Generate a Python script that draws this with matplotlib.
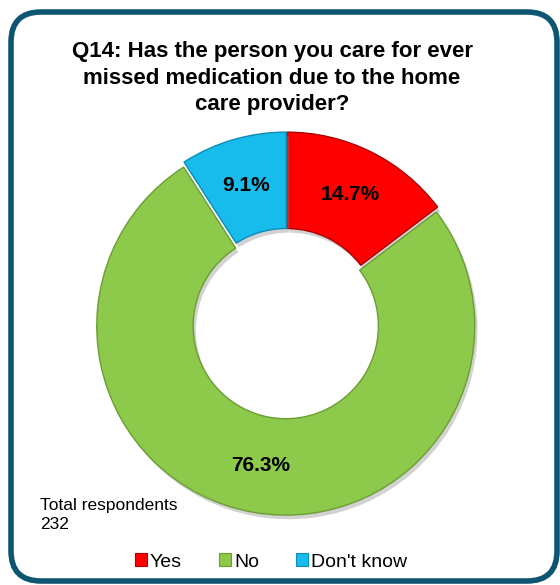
import matplotlib
matplotlib.use('Agg')
import matplotlib.pyplot as plt
from matplotlib.patches import FancyBboxPatch, Patch
from matplotlib.transforms import IdentityTransform
import matplotlib.patheffects as pe

# survey answers for Q14
labels = ['Yes', 'No', "Don't know"]
values = [14.7, 76.3, 9.1]
colors = ['#FF0000', '#8DC94A', '#17BCEC']
edges = ['#B00000', '#6A9E33', '#0C8DB5']
total_respondents = 232

plt.rcParams['font.family'] = ['Liberation Sans', 'DejaVu Sans']

fig = plt.figure(figsize=(5.6, 5.85), dpi=100)

# rounded frame round the whole chart (pixel coords), kept behind the axes
frame = FancyBboxPatch((11, 4), 546, 569, boxstyle='round,pad=0,rounding_size=30',
                       transform=IdentityTransform(), facecolor='none',
                       edgecolor='#0E5572', linewidth=4, zorder=-1)
fig.patches.append(frame)

fig.text(272 / 560, 1 - 78 / 585,
         'Q14: Has the person you care for ever\nmissed medication due to the home\ncare provider?',
         ha='center', va='center', fontsize=16, fontweight='bold', linespacing=1.32)

# donut, centre at (286.5, 322) px, radius 189 px
R = 189
side = 420
ax = fig.add_axes([(286.5 - side / 2) / 560, (585 - 322 - side / 2) / 585, side / 560, side / 585])
wedges, _, autotexts = ax.pie(values, colors=colors, startangle=90, counterclock=False,
                              explode=[0.005, 0.022, 0.005], autopct='%.1f', pctdistance=0.75,
                              wedgeprops=dict(width=0.51, linewidth=1.0),
                              normalize=True)
for w, ec in zip(wedges, edges):
    w.set_edgecolor(ec)
    w.set_path_effects([pe.SimplePatchShadow(offset=(2, -3), shadow_rgbFace='#808080', alpha=0.35),
                        pe.Normal()])
for t, v in zip(autotexts, values):
    t.set_text(f'{v:.1f}%')
    t.set_fontsize(15)
    t.set_fontweight('bold')
    t.set_color('black')
L = side / 2 / R
ax.set_xlim(-L, L)
ax.set_ylim(-L, L)
ax.set_aspect('equal')
ax.axis('off')

fig.text(40 / 560, 1 - 515 / 585, f'Total respondents\n{total_respondents}',
         ha='left', va='center', fontsize=12.5, linespacing=1.27)

handles = [Patch(facecolor=c, edgecolor=e, linewidth=0.8) for c, e in zip(colors, edges)]
fig.legend(handles, labels, loc='center', bbox_to_anchor=(271 / 560, 23 / 585), ncol=3,
           frameon=False, fontsize=14, handlelength=0.62, handleheight=0.62,
           handletextpad=0.15, columnspacing=1.9, borderpad=0)

fig.savefig('out.png', dpi=100)
